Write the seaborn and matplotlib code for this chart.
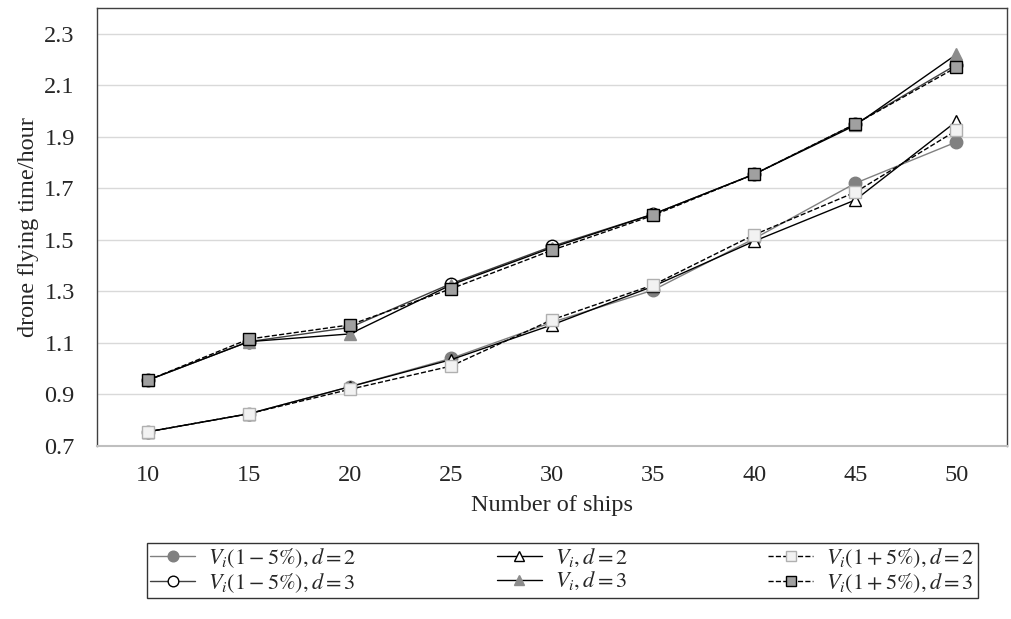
import pandas as pd
import matplotlib.pyplot as plt
import seaborn as sns

# data
ships = [10, 15, 20, 25, 30, 35, 40, 45, 50]

low_d2 = [0.755, 0.825, 0.930, 1.040, 1.180, 1.305, 1.505, 1.720, 1.880]
low_d3 = [0.955, 1.105, 1.160, 1.330, 1.475, 1.600, 1.755, 1.950, 2.180]
base_d2 = [0.755, 0.825, 0.930, 1.035, 1.170, 1.320, 1.495, 1.655, 1.960]
base_d3 = [0.955, 1.105, 1.135, 1.325, 1.470, 1.600, 1.755, 1.945, 2.220]
high_d2 = [0.755, 0.825, 0.920, 1.010, 1.190, 1.325, 1.520, 1.685, 1.925]
high_d3 = [0.955, 1.115, 1.170, 1.310, 1.460, 1.595, 1.755, 1.950, 2.170]

labels = [r'$V_i(1-5\%), d=2$', r'$V_i(1-5\%), d=3$',
          r'$V_i, d=2$', r'$V_i, d=3$',
          r'$V_i(1+5\%), d=2$', r'$V_i(1+5\%), d=3$']

sns.set_theme(style='white')
plt.rcParams['font.family'] = ['Liberation Serif', 'DejaVu Serif']
plt.rcParams['mathtext.fontset'] = 'stix'

fig = plt.figure(figsize=(10.11, 6.19), dpi=100)
ax = fig.add_axes([0.096, 0.2795, 0.9, 0.7075])

# (values, line color, linestyle, marker, face, edge, marker size)
series = [
    (low_d2, '#808080', '-', 'o', '#808080', '#808080', 9),
    (low_d3, '#404040', '-', 'o', 'white', 'black', 9),
    (base_d2, 'black', '-', '^', 'white', 'black', 9),
    (base_d3, 'black', '-', '^', '#8c8c8c', '#8c8c8c', 9),
    (high_d2, 'black', '--', 's', '#f2f2f2', '#b0b0b0', 9),
    (high_d3, 'black', '--', 's', '#a0a0a0', 'black', 9),
]

for (vals, col, ls, mk, fc, ec, ms), lab in zip(series, labels):
    df = pd.DataFrame({'ships': ships, 'time': vals})
    sns.lineplot(data=df, x='ships', y='time', ax=ax, color=col, linestyle=ls,
                 linewidth=1.0, marker=mk, markerfacecolor=fc, markeredgecolor=ec,
                 markersize=ms, markeredgewidth=1.0, label=lab)

ax.set_xlim(7.5, 52.5)
ax.set_ylim(0.7, 2.4)
ax.set_xticks(ships)
ax.set_yticks([0.7, 0.9, 1.1, 1.3, 1.5, 1.7, 1.9, 2.1, 2.3])
ax.set_yticklabels(['0.7', '0.9', '1.1', '1.3', '1.5', '1.7', '1.9', '2.1', '2.3'])
ax.tick_params(axis='y', labelsize=17.5, length=0, pad=16)
ax.tick_params(axis='x', labelsize=17.5, length=0, pad=14)
ax.grid(axis='y', color='#d9d9d9', linewidth=1.0)
ax.set_axisbelow(True)
for s in ['top', 'left', 'right']:
    ax.spines[s].set_color('#404040')
    ax.spines[s].set_linewidth(1.0)
ax.spines['bottom'].set_color('#bfbfbf')
ax.spines['bottom'].set_linewidth(1.5)

ax.set_xlabel('Number of ships', fontsize=17.5, labelpad=6)
ax.set_ylabel('drone flying time/hour', fontsize=17.5, labelpad=4)

handles, labs = ax.get_legend_handles_labels()
leg = ax.legend(handles, labs, ncol=3, fontsize=16, loc='upper left',
                bbox_to_anchor=(0.055, -0.3215, 0.913, 0.1), mode='expand',
                borderaxespad=0, frameon=True, fancybox=False, edgecolor='black',
                handlelength=2.0, handletextpad=0.6, borderpad=0.15,
                labelspacing=0.05, markerscale=0.85)
leg.get_frame().set_linewidth(1.0)

fig.savefig('out.png', dpi=100)
